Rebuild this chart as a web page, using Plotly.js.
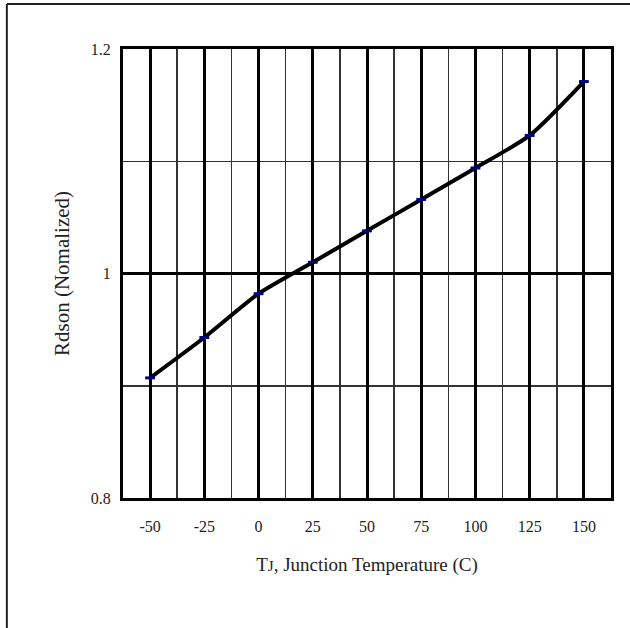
<!DOCTYPE html>
<html>
<head>
<meta charset="utf-8">
<script src="https://cdn.plot.ly/plotly-3.0.1.min.js"></script>
<style>html,body{margin:0;padding:0;background:#fff;}#chart{width:630px;height:628px;}</style>
</head>
<body>
<div id="chart"></div>
<script>
var temperatures = [-50, -25, 0, 25, 50, 75, 100, 125, 150];
var rdsonNormalized = [0.907, 0.943, 0.982, 1.010, 1.038, 1.066, 1.094, 1.123, 1.171];
var xTickValues = [-50, -25, 0, 25, 50, 75, 100, 125, 150];
var xTickLabels = ['-50', '-25', '0', '25', '50', '75', '100', '125', '150'];
var yTickValues = [0.8, 1.0, 1.2];
var yTickLabels = ['0.8', '1', '1.2'];

var fontFamily = '"Liberation Serif", "DejaVu Serif", serif';

var trace = {
  x: temperatures,
  y: rdsonNormalized,
  type: 'scatter',
  mode: 'lines+markers',
  line: {color: '#000000', width: 4, shape: 'spline', smoothing: 0.6},
  marker: {symbol: 'line-ew', size: 7, color: '#000080', line: {color: '#000080', width: 3}},
  hoverinfo: 'x+y'
};

var layout = {
  width: 630,
  height: 628,
  paper_bgcolor: '#ffffff',
  plot_bgcolor: '#ffffff',
  showlegend: false,
  margin: {l: 123, r: 19, t: 49, b: 130, pad: 0},
  font: {family: fontFamily, color: '#222222', size: 16},
  xaxis: {
    range: [-62.5, 162.5],
    tickmode: 'array',
    tickvals: xTickValues,
    ticktext: xTickLabels,
    ticks: '',
    ticklabelstandoff: 12,
    showgrid: true,
    gridcolor: '#000000',
    gridwidth: 3,
    minor: {dtick: 12.5, tick0: 0, showgrid: true, gridcolor: '#333333', gridwidth: 1.5},
    showline: true,
    mirror: true,
    linecolor: '#000000',
    linewidth: 3,
    zeroline: false,
    tickfont: {family: fontFamily, size: 16, color: '#222222'},
    title: {
      text: 'T<span style="font-size:15px">J</span>, Junction Temperature (C)',
      font: {family: fontFamily, size: 19, color: '#222222'},
      standoff: 24
    },
    automargin: false,
    fixedrange: true
  },
  yaxis: {
    range: [0.8, 1.2],
    tickmode: 'array',
    tickvals: yTickValues,
    ticktext: yTickLabels,
    ticks: '',
    ticklabelstandoff: 6,
    showgrid: true,
    gridcolor: '#000000',
    gridwidth: 3,
    minor: {dtick: 0.1, tick0: 0.8, showgrid: true, gridcolor: '#333333', gridwidth: 1.5},
    showline: true,
    mirror: true,
    linecolor: '#000000',
    linewidth: 3,
    zeroline: false,
    tickfont: {family: fontFamily, size: 16, color: '#222222'},
    title: {
      text: 'Rdson (Nomalized)',
      font: {family: fontFamily, size: 21, color: '#222222'},
      standoff: 16
    },
    automargin: false,
    fixedrange: true
  },
  shapes: [
    {type: 'line', xref: 'paper', yref: 'paper', x0: -0.238, x1: 1.05, y0: 1.1002, y1: 1.1002,
     line: {color: '#222222', width: 2}},
    {type: 'line', xref: 'paper', yref: 'paper', x0: -0.238, x1: -0.238, y0: 1.1002, y1: -0.3,
     line: {color: '#222222', width: 2}}
  ]
};

Plotly.newPlot('chart', [trace], layout, {displayModeBar: false, staticPlot: true});
</script>
</body>
</html>
